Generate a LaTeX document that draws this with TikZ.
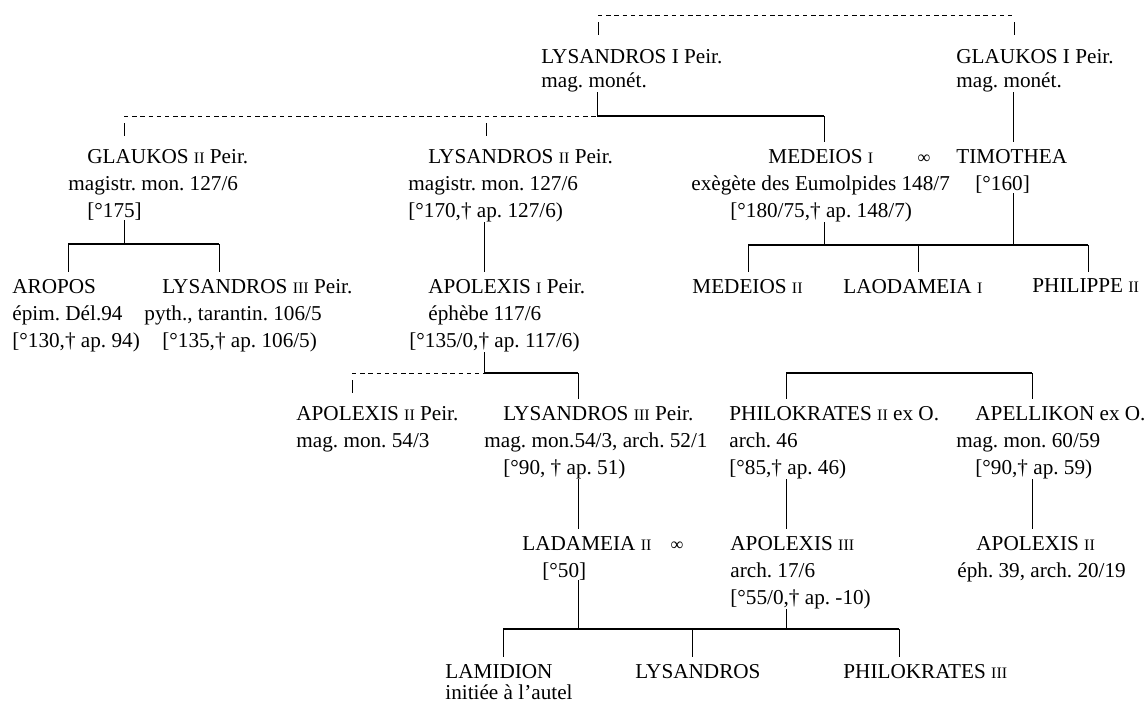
\documentclass[tikz,border=0pt]{standalone}
\usepackage{fontspec}
\setmainfont{Liberation Serif}
\frenchspacing
\newcommand{\rn}[1]{{\fontsize{8}{9}\selectfont #1}}
\begin{document}
\begin{tikzpicture}[x=0.5pt,y=-0.5pt,
  person/.style={font=\fontsize{10.6}{13.5}\selectfont,align=left,anchor=north west,inner sep=0pt},
  marr/.style={font=\fontsize{9}{10}\selectfont,inner sep=0pt,anchor=base},
  kin/.style={line width=0.45pt},
  drop/.style={line width=0.45pt,shorten >=3.2pt},
  bar/.style={line width=0.6pt},
  dashline/.style={line width=0.5pt,dash pattern=on 2.2pt off 1.9pt},
  stub/.style={line width=0.45pt,dash pattern=on 0pt off 3.5pt on 6.5pt off 80pt}]
  \useasboundingbox (0,0) rectangle (1145,702);
  % generation 1
  \node[person] (ly1) at (541,48.7) {LYSANDROS I Peir.\\[-1.5pt]mag. monét.};
  \node[person] (gl1) at (956,48.7) {GLAUKOS I Peir.\\[-1.5pt]mag. monét.};
  % generation 2
  \node[person] (gl2) at (68,148.7) {\hspace*{9.5pt}GLAUKOS \rn{II} Peir.\\magistr. mon. 127/6\\\hspace*{9.5pt}[°175]};
  \node[person] (ly2) at (408,148.7) {\hspace*{10pt}LYSANDROS \rn{II} Peir.\\magistr. mon. 127/6\\{[}°170,† ap. 127/6)};
  \node[person] (me1) at (691,148.7) {\hspace*{38.5pt}MEDEIOS \rn{I}\\exègète des Eumolpides 148/7\\\hspace*{19.5pt}[°180/75,† ap. 148/7)};
  \node[marr] (mar1) at (924,163) {∞};
  \node[person] (ti) at (956,148.7) {TIMOTHEA\\\hspace*{9.5pt}[°160]};
  % generation 3
  \node[person] (ar) at (12,278.7) {AROPOS\\épim. Dél.94\\{[}°130,† ap. 94)};
  \node[person] (ly3a) at (144,278.7) {\hspace*{9pt}LYSANDROS \rn{III} Peir.\\pyth., tarantin. 106/5\\\hspace*{9pt}[°135,† ap. 106/5)};
  \node[person] (ap1) at (409,278.7) {\hspace*{9.5pt}APOLEXIS \rn{I} Peir.\\\hspace*{9.5pt}éphèbe 117/6\\{[}°135/0,† ap. 117/6)};
  \node[person] (me2) at (692,278.7) {MEDEIOS \rn{II}};
  \node[person] (la1) at (843,278.7) {LAODAMEIA \rn{I}};
  \node[person] (ph2) at (1032,278.7) {PHILIPPE \rn{II}};
  % generation 4
  \node[person] (ap2) at (296,405.7) {APOLEXIS \rn{II} Peir.\\mag. mon. 54/3};
  \node[person] (ly3b) at (484,405.7) {\hspace*{9.5pt}LYSANDROS \rn{III} Peir.\\mag. mon.54/3, arch. 52/1\\\hspace*{9.5pt}[°90, † ap. 51)};
  \node[person] (pk2) at (729,405.7) {PHILOKRATES \rn{II} ex O.\\arch. 46\\{[}°85,† ap. 46)};
  \node[person] (apl) at (956,405.7) {\hspace*{9.5pt}APELLIKON ex O.\\mag. mon. 60/59\\\hspace*{9.5pt}[°90,† ap. 59)};
  % generation 5
  \node[person] (la2) at (522,535.7) {LADAMEIA \rn{II}\\\hspace*{10pt}[°50]};
  \node[marr] (mar2) at (677,550) {∞};
  \node[person] (ap3) at (730,535.7) {APOLEXIS \rn{III}\\arch. 17/6\\{[}°55/0,† ap. -10)};
  \node[person] (ap2b) at (957,535.7) {\hspace*{9.5pt}APOLEXIS \rn{II}\\éph. 39, arch. 20/19};
  % generation 6
  \node[person] (lam) at (445,663.7) {LAMIDION\\[-3pt]initiée à l'autel};
  \node[person] (lys) at (635,663.7) {LYSANDROS};
  \node[person] (pk3) at (843,663.7) {PHILOKRATES \rn{III}};
  % bar points
  \coordinate (t0) at (598,15);  \coordinate (t1) at (1014,15);
  \coordinate (u0) at (124,116); \coordinate (u1) at (486,116);
  \coordinate (u2) at (597,116); \coordinate (u3) at (824,116);
  \coordinate (g0) at (124,244); \coordinate (g1) at (68,244); \coordinate (g2) at (219,244);
  \coordinate (m0) at (748,245); \coordinate (m1) at (824,245); \coordinate (m2) at (918,245);
  \coordinate (m3) at (1013,245); \coordinate (m4) at (1088,245);
  \coordinate (a0) at (352,373); \coordinate (a1) at (484,373); \coordinate (a2) at (578,373);
  \coordinate (p0) at (786,373); \coordinate (p1) at (1032,373);
  \coordinate (l0) at (503,629); \coordinate (l1) at (578,629); \coordinate (l2) at (692,629);
  \coordinate (l3) at (786,629); \coordinate (l4) at (899,629);
  % top
  \draw[dashline] (t0) -- (t1);
  \draw[stub] (t0) -- (ly1.north -| t0);
  \draw[stub] (t1) -- (gl1.north -| t1);
  \draw[kin] (ly1.south -| u2) -- (u2);
  \draw[dashline] (u0) -- (u2);
  \draw[bar] (u2) -- (u3);
  \draw[drop] (u3) -- (me1.north -| u3);
  \draw[stub] (u0) -- (gl2.north -| u0);
  \draw[stub] (u1) -- (ly2.north -| u1);
  \draw[drop] (gl1.south -| m3) -- (ti.north -| m3);
  % Glaukos II
  \draw[kin] (gl2.south -| g0) -- (g0);
  \draw[bar] (g1) -- (g2);
  \draw[drop] (g1) -- (ar.north -| g1);
  \draw[drop] (g2) -- (ly3a.north -| g2);
  \draw[drop] (ly2.south -| a1) -- (ap1.north -| a1);
  % Medeios I and Timothea
  \draw[kin] (me1.south -| m1) -- (m1);
  \draw[kin] (ti.south -| m3) -- (m3);
  \draw[bar] (m0) -- (m4);
  \foreach \c/\n in {m0/me2,m2/la1,m4/ph2}
    \draw[drop] (\c) -- (\n.north -| \c);
  % Apolexis I
  \draw[kin] (ap1.south -| a1) -- (a1);
  \draw[dashline] (a0) -- (a1);
  \draw[bar] (a1) -- (a2);
  \draw[stub] (a0) -- (ap2.north -| a0);
  \draw[drop] (a2) -- (ly3b.north -| a2);
  % Philokrates II, Apellikon
  \draw[bar] (p0) -- (p1);
  \draw[drop] (p0) -- (pk2.north -| p0);
  \draw[drop] (p1) -- (apl.north -| p1);
  \draw[drop] (ly3b.south -| a2) -- (la2.north -| a2);
  \draw[drop] (pk2.south -| p0) -- (ap3.north -| p0);
  \draw[drop] (apl.south -| p1) -- (ap2b.north -| p1);
  % Ladameia II and Apolexis III
  \draw[kin] (la2.south -| l1) -- (l1);
  \draw[kin] (ap3.south -| l3) -- (l3);
  \draw[bar] (l0) -- (l4);
  \foreach \c/\n in {l0/lam,l2/lys,l4/pk3}
    \draw[drop] (\c) -- (\n.north -| \c);
\end{tikzpicture}
\end{document}
